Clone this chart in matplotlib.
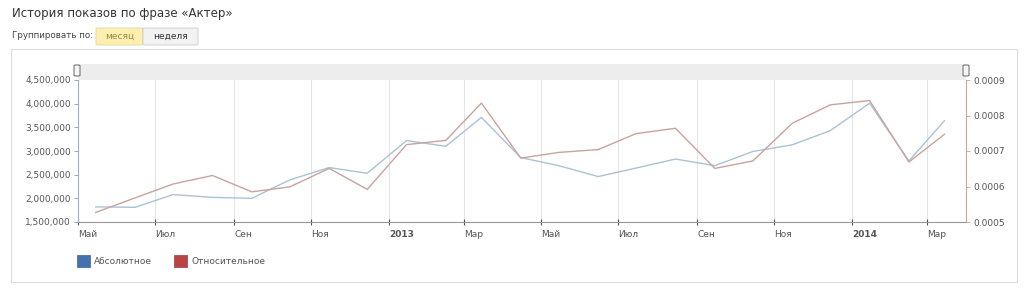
import datetime as dt
import matplotlib
matplotlib.use("Agg")
import matplotlib.pyplot as plt
import matplotlib.transforms as mtransforms
from matplotlib.patches import Rectangle, FancyBboxPatch
from matplotlib.ticker import FuncFormatter

plt.rcParams['font.family'] = ['DejaVu Sans']

# monthly points, May 2012 .. Mar 2014
months = [(2012, m) for m in range(5, 13)] + [(2013, m) for m in range(1, 13)] + [(2014, m) for m in range(1, 4)]
absolute = [1820000, 1810000, 2080000, 2020000, 2000000, 2390000, 2650000, 2530000,
            3220000, 3100000, 3710000, 2860000, 2690000, 2460000, 2640000, 2830000,
            2690000, 2990000, 3130000, 3430000, 4010000, 2790000, 3640000]
relative = [0.000527, 0.000568, 0.000607, 0.000631, 0.000585, 0.000599, 0.000651, 0.000592,
            0.000718, 0.000730, 0.000835, 0.000680, 0.000696, 0.000704, 0.000749, 0.000764,
            0.000651, 0.000672, 0.000778, 0.000830, 0.000842, 0.000669, 0.000747]

tick_labels = ["Май", "Июл", "Сен", "Ноя", "2013", "Мар", "Май", "Июл", "Сен", "Ноя", "2014", "Мар"]
left_ticks = [1500000, 2000000, 2500000, 3000000, 3500000, 4000000, 4500000]
right_ticks = [0.0005, 0.0006, 0.0007, 0.0008, 0.0009]

dates = [dt.date(y, m, 15) for y, m in months]
tick_dates = []
y, m = 2012, 5
for _ in tick_labels:
    tick_dates.append(dt.date(y, m, 1))
    m += 2
    if m > 12:
        m -= 12
        y += 1

W, H = 1024, 292
fig = plt.figure(figsize=(W / 100, H / 100), dpi=100)
fig.patch.set_facecolor("white")

def fx(px):
    return px / W

def fy(py):
    return 1 - py / H

def add_rect(x0, y0, x1, y1, z=-10, rounded=False, **kw):
    if rounded:
        p = FancyBboxPatch((fx(x0), fy(y1)), fx(x1 - x0), fy(y0) - fy(y1),
                           boxstyle="round,pad=0,rounding_size=0.002",
                           transform=fig.transFigure, zorder=z, **kw)
    else:
        p = Rectangle((fx(x0), fy(y1)), fx(x1 - x0), fy(y0) - fy(y1),
                      transform=fig.transFigure, zorder=z, **kw)
    fig.patches.append(p)

# header
fig.text(fx(12), fy(13), "История показов по фразе «Актер»", fontsize=8.5, color="#333333", va="center")
fig.text(fx(12), fy(36), "Группировать по:", fontsize=6.3, color="#444444", va="center")
add_rect(96, 28, 143, 45, rounded=True, facecolor="#fcefb0", edgecolor="#e2d59a", linewidth=0.6)
add_rect(143, 28, 198, 45, rounded=True, facecolor="#f2f2f2", edgecolor="#cccccc", linewidth=0.6)
fig.text(fx(119.5), fy(36.5), "месяц", fontsize=6.5, color="#a08840", ha="center", va="center")
fig.text(fx(170.5), fy(36.5), "неделя", fontsize=6.5, color="#333333", ha="center", va="center")

# panel box and scroller band
add_rect(11, 49, 1017, 282, z=-20, facecolor="white", edgecolor="#dddddd", linewidth=0.8)
add_rect(78, 64, 966, 80, z=-15, facecolor="#ededed", edgecolor="none")
for hx in (77, 966):
    add_rect(hx - 3, 65, hx + 3, 76, z=5, rounded=True, facecolor="#f4f4f4", edgecolor="#666666", linewidth=0.7)

ax = fig.add_axes([fx(78), fy(222), fx(888), fy(80) - fy(222)])
ax.set_facecolor("none")
ax2 = ax.twinx()

ax.plot(dates, absolute, color="#a9c3d4", linewidth=1.0, zorder=3)
ax2.plot(dates, relative, color="#c9a39d", linewidth=1.0, zorder=3)

ax.set_xlim(dt.date(2012, 5, 1), dt.date(2014, 4, 1))
ax.set_ylim(1500000, 4500000)
ax2.set_ylim(0.0005, 0.0009)

ax.set_xticks(tick_dates)
ax.set_xticklabels(tick_labels)
shift = mtransforms.ScaledTranslation(3 / 100, 0, fig.dpi_scale_trans)
for lab in ax.get_xticklabels():
    lab.set_horizontalalignment("left")
    lab.set_transform(lab.get_transform() + shift)
    if lab.get_text() in ("2013", "2014"):
        lab.set_fontweight("bold")
        lab.set_color("#333333")
ax.grid(axis="x", color="#e4e4e4", linewidth=0.8)
ax.set_axisbelow(True)

ax.set_yticks(left_ticks)
ax.yaxis.set_major_formatter(FuncFormatter(lambda v, p: f"{int(v):,}"))
ax2.set_yticks(right_ticks)
ax2.yaxis.set_major_formatter(FuncFormatter(lambda v, p: f"{v:.4f}"))

for a in (ax, ax2):
    for s in a.spines.values():
        s.set_visible(False)
ax.spines["left"].set_visible(True)
ax.spines["left"].set_color("#a0b0bc")
ax.spines["bottom"].set_visible(True)
ax.spines["bottom"].set_color("#999999")
ax2.spines["right"].set_visible(True)
ax2.spines["right"].set_color("#c9a39d")

ax.tick_params(axis="y", labelsize=6.5, labelcolor="#555555", color="#999999", length=3, width=0.6, pad=2)
ax.tick_params(axis="x", labelsize=6.5, labelcolor="#555555", color="#555555", direction="inout", length=5, width=0.8, pad=3)
ax2.tick_params(axis="y", labelsize=6.5, labelcolor="#555555", color="#c9a39d", length=3, width=0.6, pad=2)

# legend
add_rect(77, 255, 90, 267, z=1, facecolor="#4372ac", edgecolor="#3a62a0", linewidth=0.5)
fig.text(fx(94), fy(261), "Абсолютное", fontsize=6.5, color="#555555", va="center")
add_rect(174, 255, 187, 267, z=1, facecolor="#b84444", edgecolor="#a03a3a", linewidth=0.5)
fig.text(fx(191), fy(261), "Относительное", fontsize=6.5, color="#555555", va="center")

fig.savefig("out.png", dpi=100)
